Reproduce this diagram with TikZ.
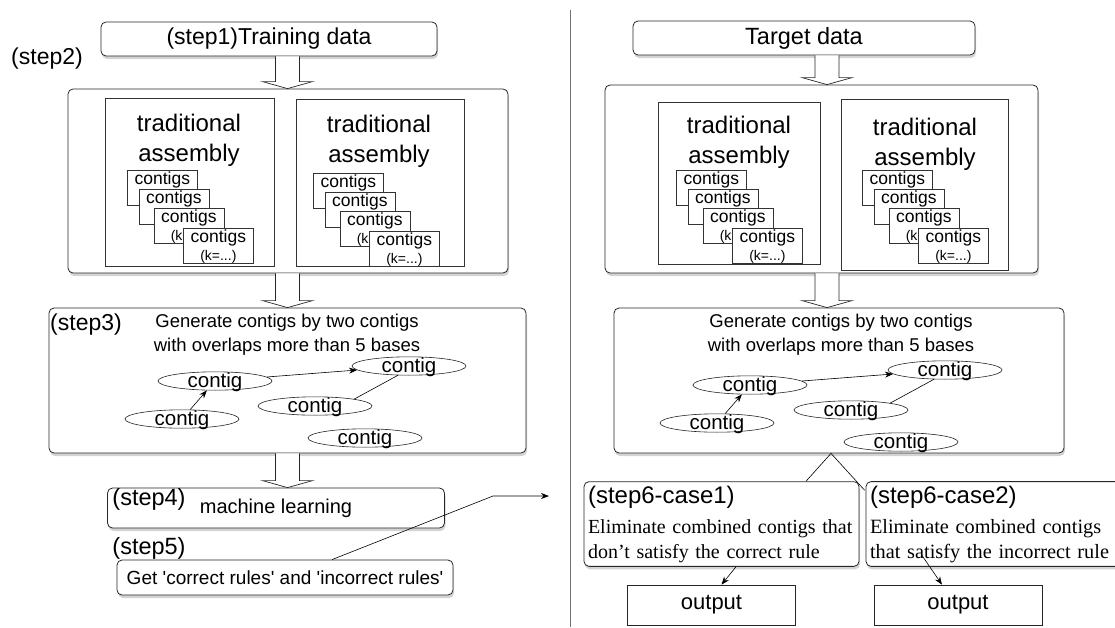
\documentclass[tikz,border=0pt]{standalone}
\usepackage{fontspec}
\setmainfont{Liberation Sans}
\newfontfamily\timesfont{Liberation Serif}
\usetikzlibrary{shapes.geometric,shadows,calc,arrows.meta}
\newcommand{\fsz}[1]{\fontsize{#1}{#1}\selectfont}
\newcommand{\fatarrow}[3]{%
  \draw[draw=black!85, line width=0.7pt, fill=white]
    (#1-12,0 |- #2.south) -- ($(#1-12,0 |- #3.north)+(0,-7)$)
    -- ($(#1-25,0 |- #3.north)+(0,-7)$) -- (#1,0 |- #3.north)
    -- ($(#1+25,0 |- #3.north)+(0,-7)$) -- ($(#1+12,0 |- #3.north)+(0,-7)$)
    -- (#1+12,0 |- #2.south);}

\begin{document}
\begin{tikzpicture}[x=1pt, y=-1pt,
    stepbox/.style={draw=black!85, line width=0.8pt, rounded corners=5pt, fill=white,
      drop shadow={shadow xshift=1pt, shadow yshift=-3pt, opacity=0.35}},
    inbox/.style={draw=black!80, line width=0.7pt, fill=white, anchor=north west},
    cbox/.style={draw=black!80, line width=0.7pt, fill=white, anchor=north west,
      minimum width=70pt, minimum height=35pt, inner sep=0pt,
      label={[font=\fsz{17.5}, inner sep=2pt, anchor=north]north:contigs},
      label={[font=\fsz{14}, inner sep=0pt, anchor=south]south:(k=...)}},
    ctg/.style={ellipse, draw=black!85, line width=0.6pt, minimum width=114pt,
      minimum height=17pt, inner sep=0pt, text height=13pt, text depth=0pt,
      font=\fsz{20.5}},
    tfont/.style={font=\fontsize{24}{30}\selectfont, align=center},
    gfont/.style={font=\fontsize{18.5}{24}\selectfont, align=center},
    obox/.style={draw=black!85, line width=0.7pt, minimum width=168pt,
      minimum height=40pt, font=\fsz{22}},
    tip/.style={line width=0.6pt, -{Stealth[length=8pt,width=6pt]}}]
\useasboundingbox (0,0) rectangle (1115,627);

\draw[black!55, line width=0.7pt] (570,10) -- (570,627);

% training side
\node[stepbox, minimum width=336pt, minimum height=34pt, font=\fsz{23}] (S1) at (269,39) {(step1)Training data};
\node[font=\fsz{23}] (s2lbl) at (47,59) {(step2)};
\node[stepbox, minimum width=440pt, minimum height=184pt] (S2) at (288,181) {};
\node[inbox, minimum width=169pt, minimum height=168pt] (LA) at (105,98) {};
\node[inbox, minimum width=168pt, minimum height=167pt] (LB) at (296,99) {};
\node[tfont] (LAt) at (189,140) {traditional\\assembly};
\node[tfont] (LBt) at (379,141) {traditional\\assembly};

% target side
\node[stepbox, minimum width=342pt, minimum height=34pt, font=\fsz{23.5}] (T1) at (804,38) {Target data};
\node[stepbox, minimum width=433pt, minimum height=188pt] (T2) at (821.5,179) {};
\node[inbox, minimum width=162pt, minimum height=162pt] (RA) at (658,102) {};
\node[inbox, minimum width=167pt, minimum height=171pt] (RB) at (841,99) {};
\node[tfont] (RAt) at (739,142) {traditional\\assembly};
\node[tfont] (RBt) at (925,144) {traditional\\assembly};

\foreach \sx/\sy/\nm in {127/170/LA, 313/173/LB, 676/170/RA, 862/170/RB}
  \foreach \dx/\dy [count=\i] in {0/0, 11.5/19, 26.5/38, 56/58}
    \node[cbox] (\nm\i) at (\sx+\dx,\sy+\dy) {};

\node[stepbox, minimum width=477pt, minimum height=145pt] (S3) at (287.5,380.5) {};
\node[font=\fsz{23}] (s3lbl) at (86,325) {(step3)};
\node[gfont] (Sg) at (287,335) {Generate contigs by two contigs\\with overlaps more than 5 bases};
\node[ctg] (Le1) at (215,381) {contig};
\node[ctg] (Le2) at (182,419) {contig};
\node[ctg] (Le3) at (315,406) {contig};
\node[ctg] (Le4) at (409,366) {contig};
\node[ctg] (Le5) at (365,438) {contig};
\draw[tip] (Le2) -- (Le1);
\draw[tip] (Le1) -- (Le4);
\draw[line width=0.6pt] (Le3.10) -- (Le4.220);

\node[stepbox, minimum width=450pt, minimum height=145pt] (T3) at (839,380.5) {};
\node[gfont] (Tg) at (841,335) {Generate contigs by two contigs\\with overlaps more than 5 bases};
\node[ctg] (Re1) at (750,385) {contig};
\node[ctg] (Re2) at (717,423) {contig};
\node[ctg] (Re3) at (851,410) {contig};
\node[ctg] (Re4) at (945,370) {contig};
\node[ctg] (Re5) at (901,442) {contig};
\draw[tip] (Re2) -- (Re1);
\draw[tip] (Re1) -- (Re4);
\draw[line width=0.6pt] (Re3.10) -- (Re4.220);

\node[stepbox, minimum width=337pt, minimum height=40pt, font=\fsz{20}] (S4) at (276,508) {machine learning};
\node[font=\fsz{23.5}] (s4lbl) at (149,499) {(step4)};
\node[font=\fsz{23.5}] (s5lbl) at (149,548) {(step5)};
\node[stepbox, minimum width=336pt, minimum height=35pt, font=\fsz{19}] (S5) at (285,577.5)
  {Get \textquotesingle correct rules\textquotesingle\ and \textquotesingle incorrect rules\textquotesingle};

\fatarrow{287.5}{S1}{S2}
\fatarrow{287.5}{S2}{S3}
\fatarrow{287.5}{S3}{S4}
\fatarrow{827}{T1}{T2}
\fatarrow{827}{T2}{T3}

\coordinate (bend) at (493,496);
\coordinate (rend) at (549,496);
\draw[tip] ($(S5.north)+(47,0)$) -- (bend) -- (rend);

\node[stepbox, minimum width=275pt, minimum height=82pt, text width=267pt, inner sep=4pt,
  align=left, font=\fontsize{20}{25}\selectfont\timesfont] (C1) at (721.5,524)
  {{\normalfont\fsz{24}(step6-case1)}\\[5pt]Eliminate combined contigs that\\don’t satisfy the correct rule};
\node[stepbox, minimum width=259pt, minimum height=82pt, text width=251pt, inner sep=4pt,
  align=left, font=\fontsize{20.3}{25}\selectfont\timesfont] (C2) at (995.5,524)
  {{\normalfont\fsz{24}(step6-case2)}\\[5pt]Eliminate combined contigs\\that satisfy the incorrect rule};
\draw[line width=0.6pt] ($(C1.north)+(84.5,0)$) -- ($(T3.south)+(-8,0)$) -- ($(C2.north west)+(-1,9)$);

\node[obox] (O1) at (711.5,605) {output};
\node[obox] (O2) at (958,605) {output};
\draw[tip] ($(C1.south)+(14.5,0)$) -- ($(O1.north)+(10,0)$);
\draw[tip] ($(C2.south)+(-74,-12)$) -- ($(O2.north)+(-16,0)$);
\end{tikzpicture}
\end{document}
